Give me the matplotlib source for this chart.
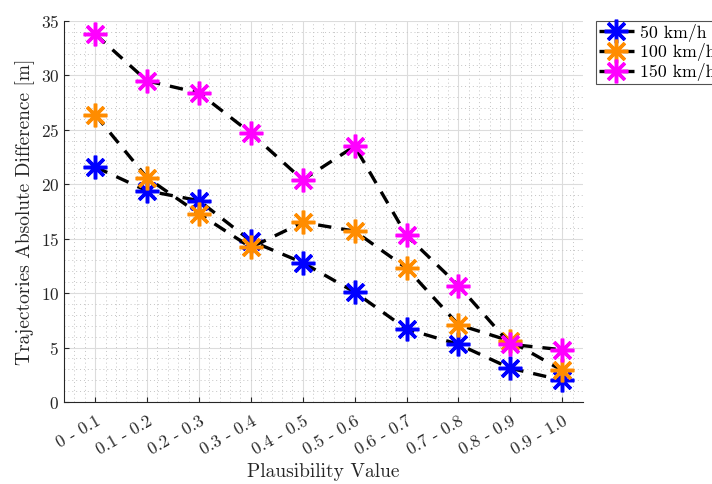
import matplotlib
matplotlib.use("Agg")
import matplotlib.pyplot as plt
from matplotlib.ticker import MultipleLocator

plt.rcParams['font.family'] = 'serif'
plt.rcParams['font.serif'] = ['cmr10', 'DejaVu Serif']
plt.rcParams['mathtext.fontset'] = 'cm'
plt.rcParams['axes.formatter.use_mathtext'] = True

# data
bins = ['0 - 0.1', '0.1 - 0.2', '0.2 - 0.3', '0.3 - 0.4', '0.4 - 0.5',
        '0.5 - 0.6', '0.6 - 0.7', '0.7 - 0.8', '0.8 - 0.9', '0.9 - 1.0']
diff_50 = [21.6, 19.4, 18.5, 14.8, 12.8, 10.1, 6.7, 5.3, 3.1, 2.0]
diff_100 = [26.4, 20.6, 17.3, 14.2, 16.5, 15.7, 12.3, 7.1, 5.6, 2.9]
diff_150 = [33.8, 29.5, 28.4, 24.7, 20.4, 23.5, 15.3, 10.7, 5.3, 4.8]

series = [('50 km/h', diff_50, '#0000ff'),
          ('100 km/h', diff_100, '#ff8c00'),
          ('150 km/h', diff_150, '#ff00ff')]

fig = plt.figure(figsize=(7.12, 4.84), dpi=100)
ax = fig.add_axes([0.0899, 0.1694, 0.7289, 0.7872])

x = list(range(1, len(bins) + 1))
for name, vals, col in series:
    ax.plot(x, vals, color='black', linestyle=(0, (4, 3)), linewidth=2.4,
            marker=(8, 2, 0), markersize=17, markeredgewidth=2.5,
            markeredgecolor=col, markerfacecolor=col, label=name)

ax.set_xlim(0.4, 10.4)
ax.set_ylim(0, 35)
ax.set_xticks(x)
ax.set_xticklabels(bins, rotation=30, ha='right', rotation_mode='anchor')
ax.set_yticks(range(0, 36, 5))
ax.xaxis.set_minor_locator(MultipleLocator(0.2))
ax.yaxis.set_minor_locator(MultipleLocator(1))

ax.grid(True, which='major', color='#dcdcdc', linewidth=0.8)
ax.grid(True, which='minor', color='#c4c4c4', linestyle=(0, (1, 3)), linewidth=0.7)
ax.set_axisbelow(True)

for s in ['top', 'right']:
    ax.spines[s].set_visible(False)
for s in ['left', 'bottom']:
    ax.spines[s].set_color('#262626')
ax.tick_params(which='both', direction='in', colors='#262626', labelsize=12.5)
ax.tick_params(which='minor', length=0)
ax.tick_params(axis='x', pad=8)

ax.set_xlabel('Plausibility Value', fontsize=14, color='#262626')
ax.set_ylabel('Trajectories Absolute Difference [m]', fontsize=14, color='#262626')

# legend sits outside the axes, partly past the right edge as in the original
leg = ax.legend(loc='upper left', bbox_to_anchor=(1.025, 1.0), fontsize=12.8,
                frameon=True, fancybox=False, edgecolor='#262626',
                handlelength=2.0, handletextpad=0.3, borderpad=0.15,
                labelspacing=0.1, borderaxespad=0)
leg.get_frame().set_linewidth(0.8)

fig.savefig('out.png', dpi=100)
